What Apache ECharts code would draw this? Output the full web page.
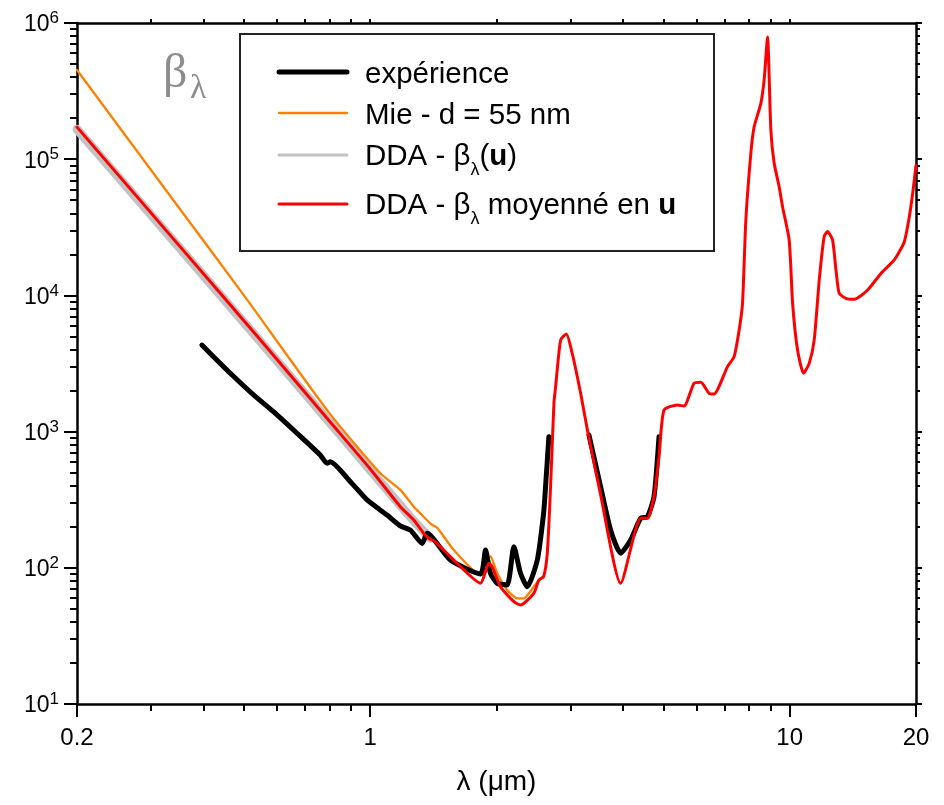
<!DOCTYPE html>
<html><head><meta charset="utf-8">
<script src="https://cdn.jsdelivr.net/npm/echarts@6/dist/echarts.min.js"></script>
<style>html,body{margin:0;padding:0;background:#fff}#c{width:944px;height:805px}</style>
</head><body><div id="c"></div><script>
const FONT = "'Liberation Sans', Arial, Helvetica, sans-serif";
const SERIF = "'Liberation Serif', 'Times New Roman', serif";

// axis ticks
const xTickLabels = [0.2, 1, 10, 20];
const xMinorTicks = [0.3, 0.4, 0.5, 0.6, 0.7, 0.8, 0.9, 2, 3, 4, 5, 6, 7, 8, 9];
const yTickLabels = [10, 100, 1000, 10000, 100000, 1000000];
const yMinorMult = [2, 3, 4, 5, 6, 7, 8, 9];

// expérience (two measured segments)
const expLambda1 = [0.397, 0.415, 0.464, 0.527, 0.588, 0.669, 0.760, 0.789, 0.803, 0.897, 0.983, 1.097, 1.18, 1.247, 1.33, 1.366, 1.553, 1.832, 1.883, 1.935, 2.008, 2.12, 2.2, 2.282, 2.368, 2.502, 2.59, 2.618, 2.666];
const expBeta1 = [4320, 3760, 2680, 1860, 1400, 972, 673, 585, 601, 429, 315, 244, 203, 189, 151, 179, 114, 90.1, 135, 91.1, 76.9, 74.8, 143, 91.1, 72.6, 114, 251, 394, 918];
const expLambda2 = [3.322, 3.542, 3.742, 3.954, 4.177, 4.413, 4.578, 4.748, 4.88];
const expBeta2 = [944, 394, 189, 128, 160, 231, 237, 333, 918];

// Mie - d = 55 nm
const mieLambda = [0.2, 0.35, 0.5, 0.8, 1.057, 1.18, 1.27, 1.317, 1.40, 1.446, 1.582, 1.832, 1.935, 2.008, 2.12, 2.241, 2.324, 2.455, 2.548, 2.59];
const mieBeta = [452000, 44000, 10000, 1360, 494, 373, 281, 251, 208, 196, 135, 88.5, 121, 91.1, 68.7, 59.7, 59.7, 72.6, 83.7, 86];

// DDA - beta(u) (grey band)
const ddaULambda = [0.2, 0.35, 0.543, 0.8, 1.0, 1.27, 1.39];
const ddaUBeta = [166000, 22600, 4710, 1170, 522, 221, 165];

// DDA - beta moyenné en u
const ddaLambda = [0.2, 0.35, 0.543, 0.8, 1.0, 1.18, 1.27, 1.341, 1.378, 1.43, 1.582, 1.832, 1.917, 1.953, 2.044, 2.2, 2.282, 2.455, 2.524, 2.59, 2.643, 2.691, 2.741, 2.767, 2.844, 2.934, 3.03, 3.174, 3.293, 3.542, 3.954, 4.413, 4.578, 4.748, 4.88, 5.016, 5.4, 5.598, 5.914, 6.138, 6.424, 6.603, 7.107, 7.37, 7.576, 7.718, 7.86, 8.078, 8.227, 8.535, 8.69, 8.853, 9.016, 9.182, 9.437, 9.614, 9.97, 10.16, 10.44, 10.79, 11.13, 11.44, 11.76, 12.08, 12.31, 12.65, 12.89, 13.12, 13.61, 14.25, 15.34, 16.5, 17.75, 18.76, 19.28, 19.64, 20];
const ddaBeta = [172000, 23300, 4840, 1190, 532, 281, 224, 179, 165, 155, 114, 77, 108, 102, 72.6, 56.4, 53.3, 65, 81.4, 86, 128, 394, 1610, 2140, 4710, 5210, 3760, 1910, 1030, 342, 76.9, 231, 231, 333, 654, 1440, 1570, 1540, 2260, 2300, 1910, 1890, 3000, 3550, 5570, 8750, 35800, 110500, 173200, 257000, 382000, 789000, 163900, 93300, 62800, 44800, 25500, 8750, 3970, 2680, 3170, 4710, 13000, 27000, 29400, 25500, 15400, 10360, 9520, 9360, 10960, 14500, 18200, 24800, 37800, 56200, 90000];

const legendNames = ['expérience', 'Mie - d = 55 nm', 'DDA - β(u)', 'DDA - β moyenné en u'];

function pairs(xs, ys) { return xs.map((x, i) => [x, ys[i]]); }
const yMinorTicks = [];
for (let d = 10; d < 1000000; d *= 10) yMinorMult.forEach(m => yMinorTicks.push(m * d));

const STYLE = {
  exp: { color: '#000000', width: 5 },
  mie: { color: '#ff8000', width: 2.3 },
  ddaU: { color: '#c2c2c2', width: 9 },
  dda: { color: '#ff0000', width: 3 }
};

const LX0 = Math.log10(0.2), LX1 = Math.log10(20);
const AX = { color: '#000', width: 2.5 };
const TK = { color: '#000', width: 2 };

function tickAxisX(pos, values, len, showLine) {
  return { type: 'value', min: LX0, max: LX1, position: pos, gridIndex: 0,
    axisLine: { show: !!showLine, onZero: false, lineStyle: AX },
    axisTick: { show: true, customValues: values.map(Math.log10), length: len, inside: false, lineStyle: TK },
    axisLabel: { show: false }, splitLine: { show: false } };
}
function tickAxisY(pos, values, len, showLine) {
  return { type: 'value', min: 1, max: 6, position: pos, gridIndex: 0,
    axisLine: { show: !!showLine, onZero: false, lineStyle: AX },
    axisTick: { show: true, customValues: values.map(Math.log10), length: len, inside: false, lineStyle: TK },
    axisLabel: { show: false }, splitLine: { show: false } };
}

function lineSeries(name, data, st, z) {
  return { name: name, type: 'line', xAxisIndex: 0, yAxisIndex: 0, data: data,
    showSymbol: false, symbol: 'none', smooth: 0.2, z: z,
    lineStyle: { color: st.color, width: st.width, cap: 'round', join: 'round' } };
}

const chart = echarts.init(document.getElementById('c'), null, { renderer: 'canvas' });

const LFS = 29.5;
const legendRowsY = [72, 113, 155, 204];
const legendStyles = [STYLE.exp, STYLE.mie, { color: '#c2c2c2', width: 3 }, STYLE.dda];
const legendTexts = [
  legendNames[0],
  legendNames[1],
  'DDA - β{s|λ}({b|u})',
  'DDA - β{s|λ} moyenné en {b|u}'
];
const richLegend = {
  s: { fontSize: 18, lineHeight: 18, padding: [28, 0, 0, 0], fontFamily: FONT, fill: '#000' },
  b: { fontSize: LFS, fontWeight: 'bold', lineHeight: 46, fontFamily: FONT, fill: '#000' }
};
const graphics = [
  { type: 'rect', z: 100, shape: { x: 240, y: 34, width: 474, height: 217 },
    style: { fill: '#fff', stroke: '#222', lineWidth: 2 } },
  { type: 'text', z: 100, x: 163, y: 74,
    style: { text: 'β', fontSize: 48, fontFamily: SERIF, fill: '#8c8c8c', verticalAlign: 'middle', align: 'left' } },
  { type: 'text', z: 100, x: 190, y: 89,
    style: { text: 'λ', fontSize: 34, fontFamily: SERIF, fill: '#8c8c8c', verticalAlign: 'middle', align: 'left' } }
];
legendRowsY.forEach((y, i) => {
  graphics.push({ type: 'line', z: 101, shape: { x1: 279, y1: y, x2: 347, y2: y },
    style: { stroke: legendStyles[i].color, lineWidth: legendStyles[i].width, lineCap: 'round' } });
  graphics.push({ type: 'text', z: 101, x: 365, y: y + (i < 2 ? 3 : 1.5),
    style: { text: legendTexts[i], fontSize: LFS, fontFamily: FONT, fill: '#000',
      lineHeight: i < 2 ? 34 : 46, verticalAlign: 'middle', align: 'left', rich: richLegend } });
});

chart.setOption({
  animation: false,
  backgroundColor: '#fff',
  grid: { left: 77, top: 23, width: 839, height: 681, containLabel: false },
  xAxis: [
    { type: 'log', logBase: 10, min: 0.2, max: 20, position: 'bottom', gridIndex: 0,
      axisLine: { show: true, onZero: false, lineStyle: AX }, axisTick: { show: false },
      minorTick: { show: false }, splitLine: { show: false }, minorSplitLine: { show: false },
      axisLabel: { show: true, color: '#000', fontSize: 24, fontFamily: FONT, margin: 22,
        formatter: v => String(+(+v).toPrecision(3)) },
      name: 'λ (μm)', nameLocation: 'middle', nameGap: 64,
      nameTextStyle: { fontSize: 28, fontFamily: FONT, color: '#000' } },
    tickAxisX('bottom', xTickLabels, 13, false),
    tickAxisX('bottom', xMinorTicks, 7, false),
    tickAxisX('top', xMinorTicks.concat([1, 10]), 4, true)
  ],
  yAxis: [
    { type: 'log', logBase: 10, min: 10, max: 1000000, position: 'left', gridIndex: 0,
      axisLine: { show: true, onZero: false, lineStyle: AX }, axisTick: { show: false },
      minorTick: { show: false }, splitLine: { show: false }, minorSplitLine: { show: false },
      axisLabel: { show: true, margin: 18,
        formatter: v => '{m|10}{s|' + Math.round(Math.log10(v)) + '}',
        rich: {
          m: { fontSize: 23, lineHeight: 30, fontFamily: FONT, color: '#000', padding: [4, 0, 0, 0] },
          s: { fontSize: 17, lineHeight: 17, padding: [4, 0, 13, 0], fontFamily: FONT, color: '#000' }
        } } },
    tickAxisY('left', yTickLabels, 13, false),
    tickAxisY('left', yMinorTicks, 7, false),
    tickAxisY('right', yTickLabels, 6, true),
    tickAxisY('right', yMinorTicks, 4, false)
  ],
  series: [
    lineSeries(legendNames[2], pairs(ddaULambda, ddaUBeta), STYLE.ddaU, 2),
    lineSeries(legendNames[1], pairs(mieLambda, mieBeta), STYLE.mie, 3),
    lineSeries(legendNames[0], pairs(expLambda1, expBeta1), STYLE.exp, 4),
    lineSeries(legendNames[0], pairs(expLambda2, expBeta2), STYLE.exp, 4),
    lineSeries(legendNames[3], pairs(ddaLambda, ddaBeta), STYLE.dda, 5)
  ],
  graphic: graphics
});
</script></body></html>
